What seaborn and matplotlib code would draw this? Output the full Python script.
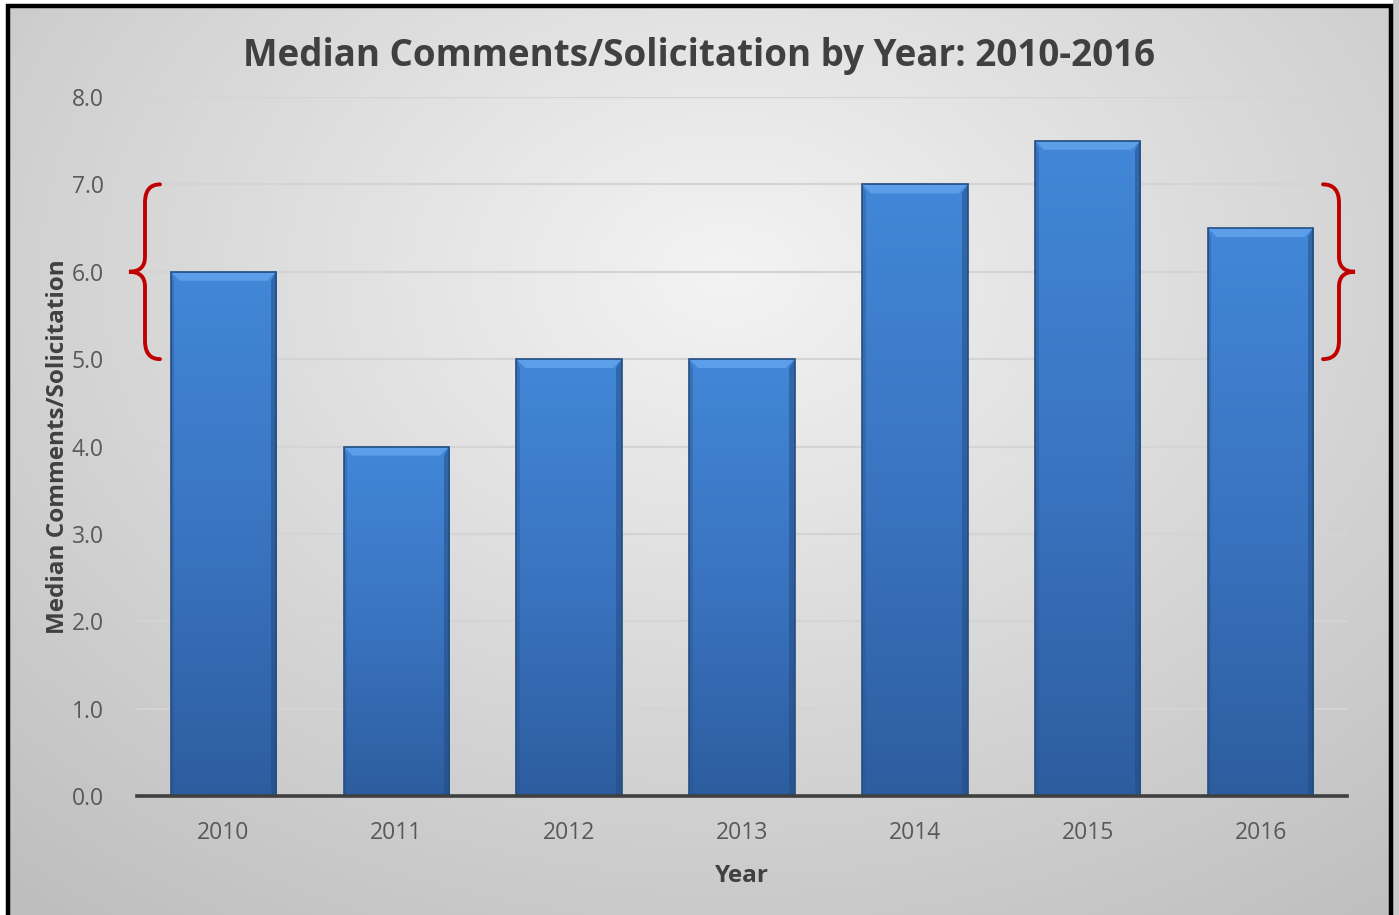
import numpy as np
import pandas as pd
import matplotlib
matplotlib.use("Agg")
import matplotlib.pyplot as plt
import matplotlib.colors as mcolors
from matplotlib.path import Path
from matplotlib.patches import PathPatch, Polygon, Rectangle
import matplotlib.transforms as mtransforms
import seaborn as sns

# ---- data ----
years = ["2010", "2011", "2012", "2013", "2014", "2015", "2016"]
median_comments = [6.0, 4.0, 5.0, 5.0, 7.0, 7.5, 6.5]
y_ticks = [0.0, 1.0, 2.0, 3.0, 4.0, 5.0, 6.0, 7.0, 8.0]
band_low, band_mid, band_high = 5.0, 6.0, 7.0

title = "Median Comments/Solicitation by Year: 2010-2016"
x_label = "Year"
y_label = "Median Comments/Solicitation"

sns.set_theme(style="white")
plt.rcParams["font.family"] = ["Open Sans", "DejaVu Sans"]

W, H = 1399, 915
fig = plt.figure(figsize=(W / 100, H / 100), dpi=100)

# radial grey background
bg = fig.add_axes([0, 0, 1, 1], zorder=-10)
yy, xx = np.mgrid[0:H, 0:W]
d = np.sqrt(((xx - 0.52 * W) / (0.75 * W)) ** 2 + ((yy - 0.30 * H) / (0.85 * H)) ** 2)
shade = np.clip(0.955 - 0.20 * d, 0.74, 0.96)
bg.imshow(np.dstack([shade, shade, shade]), aspect="auto", extent=[0, 1, 0, 1], origin="upper")
bg.set_axis_off()

# frame around the chart area (open at the bottom)
frame = fig.add_axes([0, 0, 1, 1], zorder=20)
frame.set_xlim(0, W)
frame.set_ylim(H, 0)
frame.set_axis_off()
frame.patch.set_alpha(0)
frame.plot([8, 8, 1391, 1391], [H + 5, 6, 6, H + 5], color="black", lw=3.2,
           solid_joinstyle="miter")
frame.add_patch(Rectangle((0, 0), 6.5, H, color="white", lw=0))
frame.add_patch(Rectangle((0, 0), W, 4.5, color="white", lw=0))
frame.add_patch(Rectangle((1393, 0), 6, H, color="#c8c8c8", lw=0))

ax = fig.add_axes([137 / W, 1 - 796 / H, 1210 / W, 699 / H])
ax.patch.set_alpha(0)

df = pd.DataFrame({"Year": years, "Value": median_comments})
sns.barplot(data=df, x="Year", y="Value", ax=ax, color="#3c78c8",
            width=0.61, saturation=1, zorder=3)

ax.set_ylim(0, 8)
ax.set_xlim(-0.5, len(years) - 0.5)
ax.set_yticks(y_ticks)
ax.set_yticklabels([f"{v:.1f}" for v in y_ticks])
ax.yaxis.grid(True, color="#d4d4d4", lw=1.6, zorder=0)
ax.set_axisbelow(True)
for s in ["left", "right", "top"]:
    ax.spines[s].set_visible(False)
ax.spines["bottom"].set_color("#404040")
ax.spines["bottom"].set_linewidth(2.6)
ax.spines["bottom"].set_zorder(6)
ax.tick_params(axis="both", length=0, labelsize=16.5, labelcolor="#595959")
ax.tick_params(axis="y", pad=24)
ax.tick_params(axis="x", pad=18)

ax.set_xlabel(x_label, fontsize=17.5, fontweight="bold", color="#404040", labelpad=14)
ax.set_ylabel(y_label, fontsize=17.5, fontweight="bold", color="#404040", labelpad=1)
fig.text(0.5 * (238 + 1160) / W, 1 - 56 / H, title, ha="center", va="center",
         fontsize=26.5, fontweight="bold", color="#404040")

# gradient fill + bevel on every bar
grad = mcolors.LinearSegmentedColormap.from_list("bar", ["#2d5d9f", "#3a74c1", "#4287d8"])
ppu = 699 / 8.0  # pixels per data unit along y
for p in ax.patches:
    x0, w, h = p.get_x(), p.get_width(), p.get_height()
    p.set_facecolor("none")
    p.set_edgecolor("#244d82")
    p.set_linewidth(1.2)
    p.set_zorder(5)
    im = ax.imshow(np.linspace(0, 1, 256).reshape(-1, 1), cmap=grad, origin="lower",
                   aspect="auto", extent=[x0, x0 + w, 0, h], zorder=4,
                   interpolation="bicubic")
    im.set_clip_path(p)
    bev = 9 / ppu
    dx = bev * ppu / (1210 / len(years))
    ax.add_patch(Polygon([[x0, h], [x0 + w, h], [x0 + w - dx, h - bev], [x0 + dx, h - bev]],
                         closed=True, facecolor="#62a4ec", edgecolor="none", alpha=0.85,
                         zorder=4.5))
    ax.add_patch(Polygon([[x0 + w, h], [x0 + w, 0], [x0 + w - dx * 0.6, 0],
                          [x0 + w - dx * 0.6, h - bev]],
                         closed=True, facecolor="#234a7e", edgecolor="none", alpha=0.5,
                         zorder=4.5))
    ax.add_patch(Polygon([[x0, h], [x0, 0], [x0 + dx * 0.4, 0], [x0 + dx * 0.4, h - bev]],
                         closed=True, facecolor="#2a5690", edgecolor="none", alpha=0.4,
                         zorder=4.5))


def brace(ax, x_end, x_spine, x_tip, y0, ym, y1):
    """Curly brace between y0 and y1 (data units), pointing at ym; x in axes fraction."""
    r = 0.21
    rt = 0.17
    verts = [
        (x_end, y1), (x_spine, y1), (x_spine, y1 - r),
        (x_spine, ym + rt), (x_spine, ym), (x_tip, ym),
        (x_spine, ym), (x_spine, ym - rt),
        (x_spine, y0 + r), (x_spine, y0), (x_end, y0),
    ]
    codes = [Path.MOVETO, Path.CURVE3, Path.CURVE3,
             Path.LINETO, Path.CURVE3, Path.CURVE3,
             Path.CURVE3, Path.CURVE3,
             Path.LINETO, Path.CURVE3, Path.CURVE3]
    trans = mtransforms.blended_transform_factory(ax.transAxes, ax.transData)
    ax.add_patch(PathPatch(Path(verts, codes), facecolor="none", edgecolor="#c00000",
                           lw=2.8, transform=trans, clip_on=False, zorder=7,
                           capstyle="round"))


brace(ax, (160 - 137) / 1210, (145 - 137) / 1210, (129 - 137) / 1210,
      band_low, band_mid, band_high)
brace(ax, (1323 - 137) / 1210, (1339 - 137) / 1210, (1355 - 137) / 1210,
      band_low, band_mid, band_high)

fig.savefig("out.png", dpi=100)
